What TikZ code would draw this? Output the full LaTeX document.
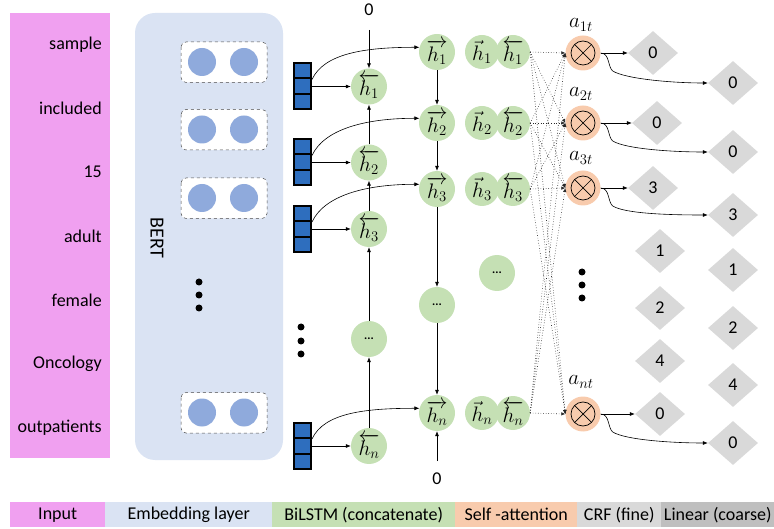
\RequirePackage{fix-cm}
\documentclass[tikz,border=0pt]{standalone}
\usepackage{fontspec}
\setmainfont{Carlito}
\usetikzlibrary{arrows.meta,calc,shapes.geometric}
\definecolor{inpc}{RGB}{240,160,240}
\definecolor{embc}{RGB}{218,227,243}
\definecolor{dotc}{RGB}{143,170,220}
\definecolor{vecc}{RGB}{46,110,190}
\definecolor{grnc}{RGB}{197,224,180}
\definecolor{orgc}{RGB}{248,203,173}
\definecolor{gryc}{RGB}{217,217,217}
\definecolor{dgryc}{RGB}{191,191,191}
\begin{document}
\begin{tikzpicture}[x=1pt,y=-1pt,
  txt/.style={font=\fontsize{18}{21}\selectfont, inner sep=1pt},
  word/.style={txt, anchor=east},
  hc/.style={circle, fill=grnc, minimum size=36pt, inner sep=0pt, font=\fontsize{21}{24}\selectfont},
  hs/.style={circle, fill=grnc, minimum size=34pt, inner sep=0pt, font=\fontsize{21}{24}\selectfont},
  attn/.style={circle, fill=orgc, minimum size=35pt, inner sep=0pt},
  dia/.style={diamond, fill=gryc, minimum width=50pt, minimum height=44pt, inner sep=0pt, font=\fontsize{18}{21}\selectfont},
  stackbox/.style={rectangle, draw=black, line width=2pt, fill=vecc, minimum width=17pt, minimum height=46pt, inner sep=0pt},
  bdot/.style={circle, fill=dotc, minimum size=28pt, inner sep=0pt},
  dashbox/.style={draw=black!70, dashed, rounded corners=5pt, fill=white, line width=0.5pt},
  blackdot/.style={circle, fill=black, minimum size=7pt, inner sep=0pt},
  arr/.style={-{Latex[length=5pt,width=4pt]}, line width=0.6pt},
  dotarr/.style={-{Latex[length=4pt,width=3.5pt]}, dotted, line width=0.6pt, black!85},
  legbox/.style={rectangle, minimum height=25pt, inner sep=0pt, font=\fontsize{18}{21}\selectfont, anchor=north west}
]
\useasboundingbox (0,0) rectangle (774,529);

% input column
\fill[inpc] (10,13) rectangle (110,458);
\foreach \w/\y [count=\k] in {sample/45, included/108, 15/172, adult/236, female/300, Oncology/364, outpatients/428}
  \node[word] (w\k) at (103,\y) {\w};

% BERT block
\fill[embc, rounded corners=20pt] (135,13) rectangle (283,460);
\node[txt, rotate=-90, font=\fontsize{20}{24}\selectfont] (bert) at (157,238) {BERT};
\foreach \y [count=\k] in {62,129.5,198,412.5} {
  \draw[dashbox] (181,\y-20) rectangle (267,\y+20.5);
  \node[bdot] (bl\k) at (202,\y) {};
  \node[bdot] (br\k) at (244,\y) {};
}
\foreach \y [count=\k] in {282,295,308} \node[blackdot] (bd\k) at (199,\y) {};

% embedding stacks, BiLSTM
\foreach \i/\ys/\yf in {1/86.5/52, 2/162.5/123, 3/229/189, n/446/413} {
  \node[stackbox] (e\i) at (302.5,\ys) {};
  \draw[line width=2pt] ($(e\i.north west)!1/3!(e\i.south west)$) -- ($(e\i.north east)!1/3!(e\i.south east)$);
  \draw[line width=2pt] ($(e\i.north west)!2/3!(e\i.south west)$) -- ($(e\i.north east)!2/3!(e\i.south east)$);
  \node[hc] (hb\i) at (369,\ys) {$\overleftarrow{h_{\i}}$};
  \node[hc] (hf\i) at (437,\yf) {$\overrightarrow{h_{\i}}$};
  \node[hs] (cl\i) at (482,\yf) {$\vec{h}_{\i}$};
  \node[hs] (cr\i) at (513,\yf) {$\overleftarrow{h_{\i}}$};
  \draw[arr] (e\i.east) -- (hb\i.west);
  \coordinate (s\i) at ($(e\i.east)+(0,-7)$);
  \coordinate (t\i) at (hf\i.165);
  \draw[arr] (s\i) .. controls ($(s\i)+(12,-26)$) and ($(t\i)+(-55,0)$) .. (t\i);
}
\node[hc, font=\fontsize{12}{13}\selectfont\bfseries] (hbd) at (369,339) {...};
\node[hc, font=\fontsize{12}{13}\selectfont\bfseries] (hfd) at (437,305) {...};
\node[hs, minimum size=36pt, font=\fontsize{12}{13}\selectfont\bfseries] (cd) at (497,273) {...};
\foreach \y [count=\k] in {327,341,354} \node[blackdot] (vd\k) at (301,\y) {};

\draw[arr] (hbn) -- (hbd);
\draw[arr] (hbd) -- (hb3);
\draw[arr] (hb3) -- (hb2);
\draw[arr] (hb2) -- (hb1);
\draw[arr] (hf1) -- (hf2);
\draw[arr] (hf2) -- (hf3);
\draw[arr] (hf3) -- (hfd);
\draw[arr] (hfd) -- (hfn);

\node[txt] (zt) at (369,10) {0};
\coordinate (zts) at (369,30);
\draw[arr] (zts) -- (hb1);
\node[txt] (zb) at (437,479) {0};
\coordinate (zbs) at (437,461);
\draw[arr] (zbs) -- (hfn);

% self-attention
\foreach \i/\ya/\yl in {1/53/25, 2/123/94, 3/188/158, n/414/382} {
  \node[attn] (a\i) at (583,\ya) {};
  \draw[line width=0.7pt] (a\i.center) circle[radius=12];
  \draw[line width=0.7pt] ($(a\i.center)+(-8.5,-8.5)$) -- ($(a\i.center)+(8.5,8.5)$);
  \draw[line width=0.7pt] ($(a\i.center)+(-8.5,8.5)$) -- ($(a\i.center)+(8.5,-8.5)$);
  \node[font=\fontsize{21}{24}\selectfont, inner sep=0pt] (la\i) at (581,\yl) {$a_{\i t}$};
}
\foreach \i in {1,2,3,n}
  \foreach \j in {1,2,3,n}
    \draw[dotarr] (cr\i.east) -- (a\j.west);
\foreach \y [count=\k] in {272,285,298} \node[blackdot] (ad\k) at (582,\y) {};

% CRF (fine) and Linear (coarse) outputs
\foreach \x/\y/\v [count=\k] in {653/53/0, 657/123/0, 653/188/3, 660/251/1, 660/308/2, 660/361/4, 660/414/0}
  \node[dia] (d\k) at (\x,\y) {\v};
\foreach \y/\v [count=\k] in {83/0, 152/0, 215/3, 270/1, 328/2, 385/4, 443/0}
  \node[dia] (D\k) at (733,\y) {\v};

\foreach \i/\k in {1/1, 2/2, 3/3, n/7} {
  \draw[arr] (a\i.east) -- (d\k.west);
  \coordinate (m\i) at ($(a\i.east)+(12,18)$);
  \draw[arr] (a\i.east) .. controls ($(a\i.east)+(9,0)$) and ($(m\i)+(-5,-4)$) .. (m\i)
     .. controls ($(m\i)+(13,8)$) and ($(D\k.west)+(-35,0)$) .. (D\k.west);
}

% legend
\node[legbox, fill=inpc, minimum width=95pt] (l1) at (10,502) {Input};
\node[legbox, fill=embc, minimum width=167pt] (l2) at (105,502) {Embedding layer};
\node[legbox, fill=grnc, minimum width=183pt] (l3) at (272,502) {BiLSTM (concatenate)};
\node[legbox, fill=orgc, minimum width=122pt] (l4) at (455,502) {Self -attention};
\node[legbox, fill=gryc, minimum width=84pt] (l5) at (577,502) {CRF (fine)};
\node[legbox, fill=dgryc, minimum width=113pt] (l6) at (661,502) {Linear (coarse)};
\end{tikzpicture}
\end{document}
